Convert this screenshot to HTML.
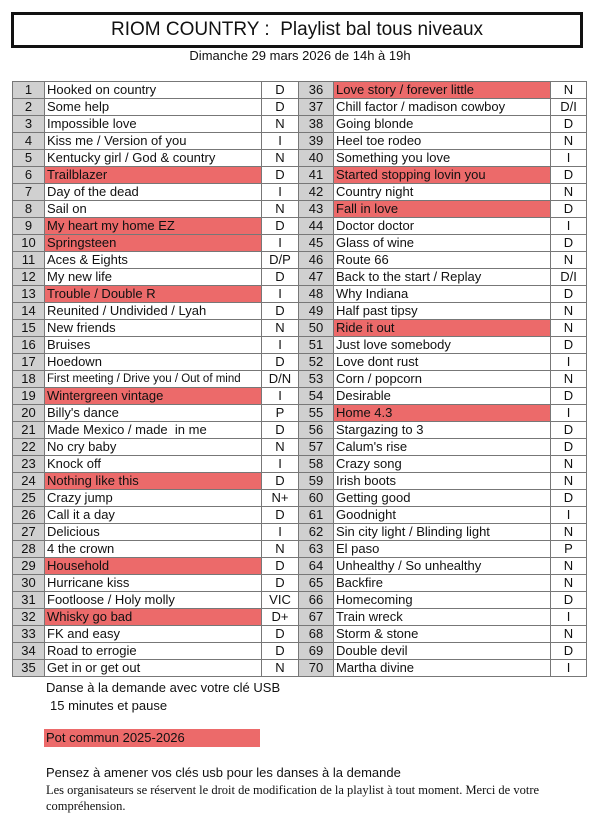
<!DOCTYPE html>
<html><head><meta charset="utf-8"><style>
body{margin:0;width:600px;height:824px;background:#fff;font-family:"Liberation Sans",sans-serif;position:relative;overflow:hidden;color:#111}
.title{position:absolute;left:11px;top:12px;width:566px;height:30px;border:3px solid #111;text-align:center;font-size:19px;line-height:30px}
.sub{position:absolute;left:0;width:600px;top:48px;text-align:center;font-size:13px}
table{position:absolute;left:12px;top:81px;border-collapse:collapse;font-size:13px;table-layout:fixed;width:574px}
td{border:1px solid #777;height:16px;padding:0 2px;line-height:16px;white-space:nowrap;overflow:hidden}
td.n{background:#d0d0d0;text-align:center;padding:0}
td.c{text-align:center;padding:0}
td.r{background:#ec6a6a}
.a{position:absolute;font-size:13px}
</style></head><body>
<div class="title">RIOM COUNTRY :&nbsp; Playlist bal tous niveaux</div>
<div class="sub">Dimanche 29 mars 2026 de 14h à 19h</div>
<table>
<colgroup><col style="width:32px"><col style="width:217px"><col style="width:37px"><col style="width:35px"><col style="width:217px"><col style="width:36px"></colgroup>
<tr><td class="n">1</td><td class="t">Hooked on country</td><td class="c">D</td><td class="n">36</td><td class="t r">Love story / forever little</td><td class="c">N</td></tr>
<tr><td class="n">2</td><td class="t">Some help</td><td class="c">D</td><td class="n">37</td><td class="t">Chill factor / madison cowboy</td><td class="c">D/I</td></tr>
<tr><td class="n">3</td><td class="t">Impossible love</td><td class="c">N</td><td class="n">38</td><td class="t">Going blonde</td><td class="c">D</td></tr>
<tr><td class="n">4</td><td class="t">Kiss me / Version of you</td><td class="c">I</td><td class="n">39</td><td class="t">Heel toe rodeo</td><td class="c">N</td></tr>
<tr><td class="n">5</td><td class="t">Kentucky girl / God &amp; country</td><td class="c">N</td><td class="n">40</td><td class="t">Something you love</td><td class="c">I</td></tr>
<tr><td class="n">6</td><td class="t r">Trailblazer</td><td class="c">D</td><td class="n">41</td><td class="t r">Started stopping lovin you</td><td class="c">D</td></tr>
<tr><td class="n">7</td><td class="t">Day of the dead</td><td class="c">I</td><td class="n">42</td><td class="t">Country night</td><td class="c">N</td></tr>
<tr><td class="n">8</td><td class="t">Sail on</td><td class="c">N</td><td class="n">43</td><td class="t r">Fall in love</td><td class="c">D</td></tr>
<tr><td class="n">9</td><td class="t r">My heart my home EZ</td><td class="c">D</td><td class="n">44</td><td class="t">Doctor doctor</td><td class="c">I</td></tr>
<tr><td class="n">10</td><td class="t r">Springsteen</td><td class="c">I</td><td class="n">45</td><td class="t">Glass of wine</td><td class="c">D</td></tr>
<tr><td class="n">11</td><td class="t">Aces &amp; Eights</td><td class="c">D/P</td><td class="n">46</td><td class="t">Route 66</td><td class="c">N</td></tr>
<tr><td class="n">12</td><td class="t">My new life</td><td class="c">D</td><td class="n">47</td><td class="t">Back to the start / Replay</td><td class="c">D/I</td></tr>
<tr><td class="n">13</td><td class="t r">Trouble / Double R</td><td class="c">I</td><td class="n">48</td><td class="t">Why Indiana</td><td class="c">D</td></tr>
<tr><td class="n">14</td><td class="t">Reunited / Undivided / Lyah</td><td class="c">D</td><td class="n">49</td><td class="t">Half past tipsy</td><td class="c">N</td></tr>
<tr><td class="n">15</td><td class="t">New friends</td><td class="c">N</td><td class="n">50</td><td class="t r">Ride it out</td><td class="c">N</td></tr>
<tr><td class="n">16</td><td class="t">Bruises</td><td class="c">I</td><td class="n">51</td><td class="t">Just love somebody</td><td class="c">D</td></tr>
<tr><td class="n">17</td><td class="t">Hoedown</td><td class="c">D</td><td class="n">52</td><td class="t">Love dont rust</td><td class="c">I</td></tr>
<tr><td class="n">18</td><td class="t" style="font-size:11.5px">First meeting / Drive you / Out of mind</td><td class="c">D/N</td><td class="n">53</td><td class="t">Corn / popcorn</td><td class="c">N</td></tr>
<tr><td class="n">19</td><td class="t r">Wintergreen vintage</td><td class="c">I</td><td class="n">54</td><td class="t">Desirable</td><td class="c">D</td></tr>
<tr><td class="n">20</td><td class="t">Billy's dance</td><td class="c">P</td><td class="n">55</td><td class="t r">Home 4.3</td><td class="c">I</td></tr>
<tr><td class="n">21</td><td class="t">Made Mexico / made&nbsp; in me</td><td class="c">D</td><td class="n">56</td><td class="t">Stargazing to 3</td><td class="c">D</td></tr>
<tr><td class="n">22</td><td class="t">No cry baby</td><td class="c">N</td><td class="n">57</td><td class="t">Calum's rise</td><td class="c">D</td></tr>
<tr><td class="n">23</td><td class="t">Knock off</td><td class="c">I</td><td class="n">58</td><td class="t">Crazy song</td><td class="c">N</td></tr>
<tr><td class="n">24</td><td class="t r">Nothing like this</td><td class="c">D</td><td class="n">59</td><td class="t">Irish boots</td><td class="c">N</td></tr>
<tr><td class="n">25</td><td class="t">Crazy jump</td><td class="c">N+</td><td class="n">60</td><td class="t">Getting good</td><td class="c">D</td></tr>
<tr><td class="n">26</td><td class="t">Call it a day</td><td class="c">D</td><td class="n">61</td><td class="t">Goodnight</td><td class="c">I</td></tr>
<tr><td class="n">27</td><td class="t">Delicious</td><td class="c">I</td><td class="n">62</td><td class="t">Sin city light / Blinding light</td><td class="c">N</td></tr>
<tr><td class="n">28</td><td class="t">4 the crown</td><td class="c">N</td><td class="n">63</td><td class="t">El paso</td><td class="c">P</td></tr>
<tr><td class="n">29</td><td class="t r">Household</td><td class="c">D</td><td class="n">64</td><td class="t">Unhealthy / So unhealthy</td><td class="c">N</td></tr>
<tr><td class="n">30</td><td class="t">Hurricane kiss</td><td class="c">D</td><td class="n">65</td><td class="t">Backfire</td><td class="c">N</td></tr>
<tr><td class="n">31</td><td class="t">Footloose / Holy molly</td><td class="c">VIC</td><td class="n">66</td><td class="t">Homecoming</td><td class="c">D</td></tr>
<tr><td class="n">32</td><td class="t r">Whisky go bad</td><td class="c">D+</td><td class="n">67</td><td class="t">Train wreck</td><td class="c">I</td></tr>
<tr><td class="n">33</td><td class="t">FK and easy</td><td class="c">D</td><td class="n">68</td><td class="t">Storm &amp; stone</td><td class="c">N</td></tr>
<tr><td class="n">34</td><td class="t">Road to errogie</td><td class="c">D</td><td class="n">69</td><td class="t">Double devil</td><td class="c">D</td></tr>
<tr><td class="n">35</td><td class="t">Get in or get out</td><td class="c">N</td><td class="n">70</td><td class="t">Martha divine</td><td class="c">I</td></tr>
</table>
<div class="a" style="left:46px;top:680px">Danse à la demande avec votre clé USB</div>
<div class="a" style="left:50px;top:698px">15 minutes et pause</div>
<div class="a" style="left:44px;top:729px;width:214px;height:18px;line-height:18px;background:#ec6a6a;padding-left:2px">Pot commun 2025-2026</div>
<div class="a" style="left:46px;top:765px">Pensez à amener vos clés usb pour les danses à la demande</div>
<div class="a" style="left:46px;top:782px;font-family:'Liberation Serif',serif;font-size:12.5px;line-height:16px;width:540px">Les organisateurs se réservent le droit de modification de la playlist à tout moment. Merci de votre compréhension.</div>
</body></html>
